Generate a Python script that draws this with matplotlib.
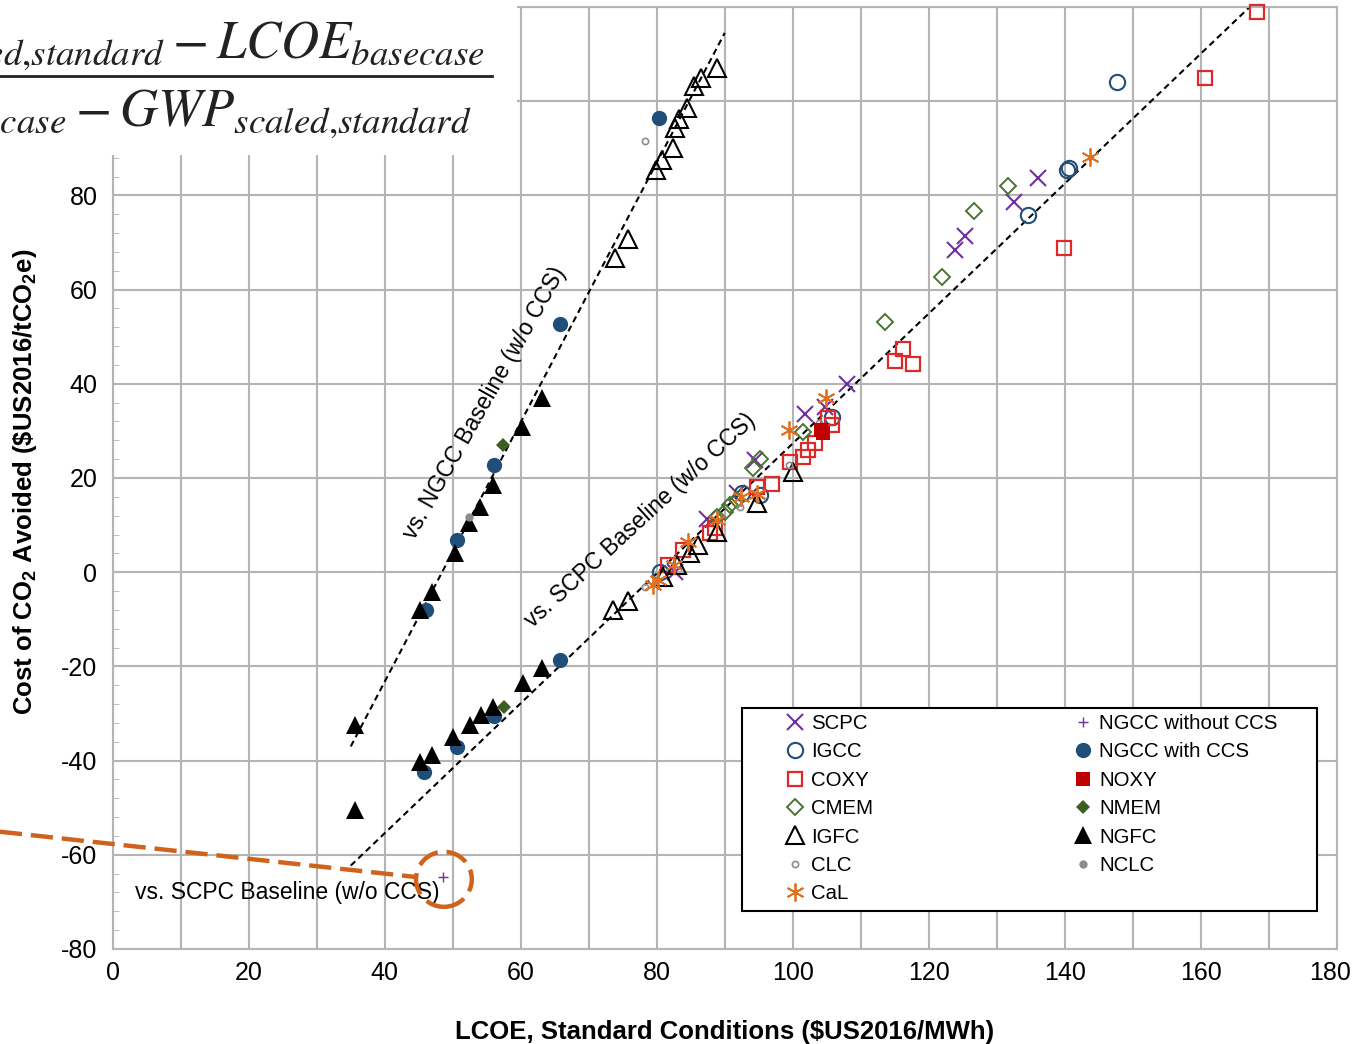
import matplotlib
matplotlib.use('Agg')
import matplotlib.pyplot as plt
from matplotlib.lines import Line2D
from matplotlib.patches import Rectangle, Ellipse
from matplotlib.ticker import MultipleLocator, FixedLocator, FixedFormatter

plt.rcParams['font.family'] = ['Liberation Sans', 'DejaVu Sans']
plt.rcParams['axes.unicode_minus'] = False
plt.rcParams['mathtext.fontset'] = 'custom'
plt.rcParams['mathtext.rm'] = 'Liberation Sans'
plt.rcParams['mathtext.bf'] = 'Liberation Sans:bold'

# values (LCOE $/MWh, cost of CO2 avoided $/tCO2e)
scpc_x = [136.0, 132.6, 125.4, 123.9, 108.0, 104.8, 101.8, 94.4, 91.8, 87.4, 82.7]
scpc_y = [83.6, 78.5, 71.3, 68.5, 40.0, 35.1, 33.6, 23.8, 16.8, 11.4, 0.0]

igcc_x = [147.7, 140.3, 140.6, 134.6, 105.8, 95.2, 92.6, 80.5]
igcc_y = [104.1, 85.3, 85.8, 75.9, 32.9, 16.3, 16.8, 0.0]

coxy_x = [168.3, 160.6, 139.9, 117.7, 115.1, 116.2, 105.8, 105.2, 103.3, 102.3,
          101.5, 99.6, 97.0, 94.8, 88.6, 87.9, 83.9, 81.7]
coxy_y = [119.0, 105.0, 68.9, 44.3, 44.8, 47.3, 31.2, 32.7, 27.4, 25.9,
          24.4, 23.3, 18.7, 18.0, 9.3, 8.3, 4.7, 1.5]

cmem_x = [131.6, 126.7, 122.0, 113.6, 101.5, 95.2, 94.2, 91.8, 90.8, 90.0, 88.8]
cmem_y = [82.1, 76.6, 62.6, 53.2, 29.7, 24.0, 22.1, 15.3, 14.2, 12.8, 11.7]

igfc_x = [88.9, 86.5, 85.5, 84.5, 83.3, 82.7, 82.4, 80.8, 79.9, 75.8, 73.9,
          73.6, 75.8, 80.9, 83.0, 84.9, 86.1, 88.9, 94.8, 100.0]
igfc_y = [107.1, 105.0, 103.3, 98.6, 96.3, 94.4, 90.1, 87.6, 85.3, 70.8, 66.8,
          -8.1, -6.2, -1.1, 1.5, 4.0, 5.7, 8.5, 14.6, 21.2]

clc_x = [78.3, 99.5, 103.8, 92.3, 78.3]
clc_y = [91.6, 22.7, 31.6, 13.8, -3.2]

cal_x = [143.7, 104.9, 99.5, 94.7, 92.4, 88.9, 84.6, 82.5, 80.2, 79.5]
cal_y = [88.2, 37.0, 30.1, 16.7, 15.9, 11.0, 6.4, 1.5, -1.7, -2.8]

ngcc_nocc_x = [48.6]
ngcc_nocc_y = [-64.7]

ngcc_ccs_x = [80.3, 65.7, 56.0, 50.6, 46.0, 45.8, 50.6, 56.0, 65.7]
ngcc_ccs_y = [96.5, 52.8, 22.7, 6.8, -8.1, -42.4, -37.1, -30.5, -18.7]

noxy_x = [104.1, 104.5]
noxy_y = [30.1, 29.5]

nmem_x = [57.4, 57.5]
nmem_y = [27.1, -28.6]

ngfc_x = [63.1, 60.2, 55.9, 54.0, 52.4, 50.3, 47.0, 45.2, 35.6,
          35.6, 45.2, 46.9, 50.1, 52.6, 54.1, 55.9, 60.4, 63.1]
ngfc_y = [36.9, 30.8, 18.5, 13.8, 10.4, 4.0, -4.2, -8.1, -32.4,
          -50.5, -40.3, -38.8, -35.0, -32.4, -30.3, -28.6, -23.5, -20.4]

nclc_x = [52.4]
nclc_y = [11.7]

# trend lines (endpoints)
ngcc_line_x = [35.0, 90.0]
ngcc_line_y = [-37.0, 114.5]
scpc_line_x = [35.0, 167.2]
scpc_line_y = [-62.3, 120.0]

# orange call-out
callout_x = [-16.6, 44.5]
callout_y = [-55.1, -64.7]
circle_center = (48.7, -65.2)

x_ticks = [0, 20, 40, 60, 80, 100, 120, 140, 160, 180]

fig = plt.figure(figsize=(13.52, 10.44), dpi=100)
ax = fig.add_axes([0.0834, 0.0910, 0.9053, 0.9023])

grid_c = '#b4b4b4'
ax.set_xlim(0, 180)
ax.set_ylim(-80, 120)
ax.xaxis.set_major_locator(FixedLocator(x_ticks))
# last label is drawn separately so it stays inside the figure
ax.xaxis.set_major_formatter(FixedFormatter([str(t) for t in x_ticks[:-1]] + ['']))
ax.xaxis.set_minor_locator(MultipleLocator(10))
ax.yaxis.set_major_locator(MultipleLocator(20))
ax.yaxis.set_minor_locator(MultipleLocator(4))
ax.grid(True, which='both', axis='x', color=grid_c, lw=1.5)
ax.grid(True, which='major', axis='y', color=grid_c, lw=1.5)
ax.set_axisbelow(True)
for s in ax.spines.values():
    s.set_color(grid_c)
    s.set_linewidth(1.5)
ax.tick_params(axis='both', which='major', length=0, labelsize=18)
ax.tick_params(axis='x', which='major', pad=9)
ax.tick_params(axis='y', which='major', pad=11)
ax.tick_params(axis='x', which='minor', length=0)
ax.tick_params(axis='y', which='minor', length=4, direction='in', color=grid_c)
ax.text(1.0117, -9 / 72 * 100 / 942, str(x_ticks[-1]), transform=ax.transAxes,
        ha='right', va='top', fontsize=18)

# dashed fit lines
ax.plot(ngcc_line_x, ngcc_line_y, color='black', lw=1.5, ls=(0, (3, 2)), zorder=2)
ax.plot(scpc_line_x, scpc_line_y, color='black', lw=1.5, ls=(0, (3, 2)), zorder=2)

purple = '#7030a0'
blue = '#1f4e79'
red = '#dc2a2a'
green = '#4b7332'
orange = '#e07020'
gray = '#8c8c8c'

kw = dict(ls='none', clip_on=False, zorder=3)
h_scpc, = ax.plot(scpc_x, scpc_y, marker='x', ms=11, mew=1.5, color=purple, label='SCPC', **kw)
h_igcc, = ax.plot(igcc_x, igcc_y, marker='o', ms=11, mew=1.5, mfc='none', mec=blue, label='IGCC', **kw)
h_coxy, = ax.plot(coxy_x, coxy_y, marker='s', ms=10, mew=1.6, mfc='none', mec=red, label='COXY', **kw)
h_cmem, = ax.plot(cmem_x, cmem_y, marker='D', ms=8, mew=1.4, mfc='none', mec=green, label='CMEM', **kw)
h_igfc, = ax.plot(igfc_x, igfc_y, marker='^', ms=12.5, mew=1.5, mfc='none', mec='black', label='IGFC', **kw)
h_clc, = ax.plot(clc_x, clc_y, marker='o', ms=4.5, mew=1.2, mfc='none', mec=gray, label='CLC', **kw)
h_cal, = ax.plot(cal_x, cal_y, marker=(6, 2, 0), ms=13, mew=1.3, color=orange, label='CaL', **kw)
h_ngn, = ax.plot(ngcc_nocc_x, ngcc_nocc_y, marker='+', ms=7, mew=1.0, color=purple, label='NGCC without CCS', **kw)
h_ngc, = ax.plot(ngcc_ccs_x, ngcc_ccs_y, marker='o', ms=11, mew=0, color=blue, label='NGCC with CCS', **kw)
h_noxy, = ax.plot(noxy_x, noxy_y, marker='s', ms=10, mew=0, color='#c00000', label='NOXY', **kw)
h_nmem, = ax.plot(nmem_x, nmem_y, marker='D', ms=7.5, mew=0, color='#3b5e23', label='NMEM', **kw)
h_ngfc, = ax.plot(ngfc_x, ngfc_y, marker='^', ms=12.5, mew=0, color='black', label='NGFC', **kw)
h_nclc, = ax.plot(nclc_x, nclc_y, marker='o', ms=6, mew=0, color=gray, label='NCLC', **kw)

# line labels
ax.text(54.75, 36.0, 'vs. NGCC Baseline (w/o CCS)', rotation=60.6, fontsize=16.5,
        ha='center', va='center', rotation_mode='anchor')
ax.text(77.6, 11.0, 'vs. SCPC Baseline (w/o CCS)', rotation=42.6, fontsize=16.5,
        ha='center', va='center', rotation_mode='anchor')
ax.text(3.3, -68.1, 'vs. SCPC Baseline (w/o CCS)', fontsize=16.5, ha='left', va='center')

# orange call-out line and circle
ax.plot(callout_x, callout_y, color='#d0631b', lw=3.2, ls=(0, (5, 2)), clip_on=False, zorder=4)
ax.add_patch(Ellipse(circle_center, 8.2, 11.7, fill=False, ec='#d0631b', lw=3.2,
                     ls=(0, (5, 2)), clip_on=False, zorder=4))

# legend box with two columns
ax.add_patch(Rectangle((0.514, 0.040), 0.470, 0.216, transform=ax.transAxes,
                       fc='white', ec='black', lw=1.5, zorder=5))
leg_kw = dict(loc='upper left', frameon=False, fontsize=14.7, handlelength=1.0,
              handletextpad=0.3, labelspacing=0.46, borderpad=0, borderaxespad=0)
leg1 = ax.legend(handles=[h_scpc, h_igcc, h_coxy, h_cmem, h_igfc, h_clc, h_cal],
                 bbox_to_anchor=(0.549, 0.2495), **leg_kw)
leg1.set_zorder(6)
ax.add_artist(leg1)
leg2 = ax.legend(handles=[h_ngn, h_ngc, h_noxy, h_nmem, h_ngfc, h_nclc],
                 bbox_to_anchor=(0.784, 0.2495), **leg_kw)
leg2.set_zorder(6)

ax.set_xlabel('LCOE, Standard Conditions ($US2016/MWh)', fontsize=18.5, fontweight='bold')
ax.set_ylabel(r'Cost of CO$_\mathbf{2}$ Avoided (\$US2016/tCO$_\mathbf{2}$e)',
              fontsize=18.5, fontweight='bold')
ax.xaxis.set_label_coords(0.5, -0.0754)
ax.yaxis.set_label_coords(-0.060, 0.496)

# equation pasted over the top-left corner
fig.add_artist(Rectangle((0, 0.8515), 0.3824, 0.1485, transform=fig.transFigure,
                         fc='white', ec='none', zorder=10))
fig.add_artist(Line2D([0, 0.364], [0.927, 0.927], transform=fig.transFigure,
                      color='#222222', lw=2, zorder=11))
fig.text(0.359, 0.945, r'$LCOE_{scaled{,}standard} - LCOE_{basecase}$', ha='right',
         va='baseline', fontsize=38, math_fontfamily='stix', color='#222222', zorder=11)
fig.text(0.349, 0.880, r'$GWP_{basecase} - GWP_{scaled{,}standard}$', ha='right',
         va='baseline', fontsize=38, math_fontfamily='stix', color='#222222', zorder=11)

fig.savefig('out.png', dpi=100)
